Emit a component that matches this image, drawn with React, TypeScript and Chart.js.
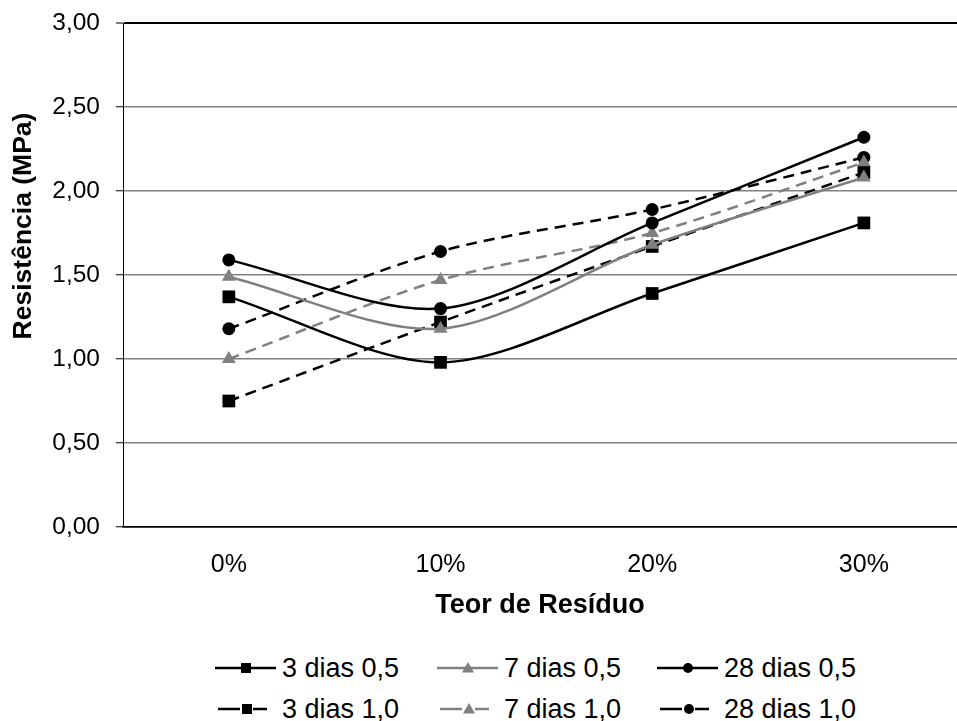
import React, { useEffect, useRef } from "react";
import { Chart, registerables } from "chart.js";

Chart.register(...registerables);

const categories = ["0%", "10%", "20%", "30%"];
const yTickValues = [0, 0.5, 1, 1.5, 2, 2.5, 3];

const seriesLabels = ["3 dias 0,5", "7 dias 0,5", "28 dias 0,5", "3 dias 1,0", "7 dias 1,0", "28 dias 1,0"];
const dias3_05 = [1.37, 0.98, 1.39, 1.81];
const dias7_05 = [1.49, 1.18, 1.68, 2.08];
const dias28_05 = [1.59, 1.3, 1.81, 2.32];
const dias3_10 = [0.75, 1.22, 1.67, 2.11];
const dias7_10 = [1.0, 1.47, 1.75, 2.17];
const dias28_10 = [1.18, 1.64, 1.89, 2.2];

const xTitle = "Teor de Resíduo";
const yTitle = "Resistência (MPa)";

const BLACK = "#000000";
const GRAY = "#808080";
const FONT = "'Liberation Sans', Arial, sans-serif";

type Style = { color: string; shape: "rect" | "triangle" | "circle"; dashed: boolean; radius: number };
const styles: Style[] = [
  { color: BLACK, shape: "rect", dashed: false, radius: 9 },
  { color: GRAY, shape: "triangle", dashed: false, radius: 8 },
  { color: BLACK, shape: "circle", dashed: false, radius: 6.5 },
  { color: BLACK, shape: "rect", dashed: true, radius: 9 },
  { color: GRAY, shape: "triangle", dashed: true, radius: 8 },
  { color: BLACK, shape: "circle", dashed: true, radius: 6.5 },
];
const seriesValues = [dias3_05, dias7_05, dias28_05, dias3_10, dias7_10, dias28_10];

const yTitlePlugin = {
  id: "yTitlePlugin",
  afterDraw(chart: any) {
    const ctx = chart.ctx;
    ctx.save();
    ctx.translate(24, 226);
    ctx.rotate(-Math.PI / 2);
    ctx.font = `bold 26.5px ${FONT}`;
    ctx.fillStyle = BLACK;
    ctx.textAlign = "center";
    ctx.textBaseline = "middle";
    ctx.fillText(yTitle, 0, 0);
    ctx.restore();
  },
};

function LegendIcon({ s }: { s: Style }) {
  const cx = s.dashed ? 32 : 31;
  const cy = 8;
  let marker: React.ReactNode;
  if (s.shape === "rect") marker = <rect x={cx - 5} y={cy - 5} width={10} height={10} fill={s.color} />;
  else if (s.shape === "triangle")
    marker = <polygon points={`${cx},${cy - 6} ${cx + 6},${cy + 4.5} ${cx - 6},${cy + 4.5}`} fill={s.color} />;
  else marker = <circle cx={cx} cy={cy} r={5} fill={s.color} />;
  return (
    <svg width={61} height={16} style={{ display: "block", marginRight: 6 }}>
      {s.dashed ? (
        <>
          <line x1={3} y1={cy} x2={25} y2={cy} stroke={s.color} strokeWidth={2.5} />
          <line x1={38} y1={cy} x2={52} y2={cy} stroke={s.color} strokeWidth={2.5} />
        </>
      ) : (
        <line x1={0} y1={cy} x2={61} y2={cy} stroke={s.color} strokeWidth={2.5} />
      )}
      {marker}
    </svg>
  );
}

export default function App() {
  const ref = useRef<HTMLCanvasElement | null>(null);

  useEffect(() => {
    if (!ref.current) return;
    const datasets = seriesValues.map((vals, k) => ({
      label: seriesLabels[k],
      data: vals.map((y, i) => ({ x: i, y })),
      borderColor: styles[k].color,
      backgroundColor: styles[k].color,
      borderWidth: 2.5,
      borderDash: styles[k].dashed ? [11, 7] : [],
      pointStyle: styles[k].shape,
      pointRadius: styles[k].radius,
      pointBorderWidth: 0,
      pointBackgroundColor: styles[k].color,
      tension: 0.3,
    }));
    const chart = new Chart(ref.current, {
      type: "line",
      data: { datasets },
      plugins: [yTitlePlugin],
      options: {
        animation: false,
        responsive: false,
        layout: { autoPadding: false, padding: { top: 23, left: 0, right: 0, bottom: 0 } },
        plugins: { legend: { display: false }, tooltip: { enabled: false } },
        scales: {
          x: {
            type: "linear",
            min: -0.5,
            max: 3.44,
            afterBuildTicks: (scale: any) => {
              scale.ticks = categories.map((_, i) => ({ value: i }));
            },
            afterFit: (scale: any) => {
              scale.height = 113;
            },
            grid: { display: false },
            border: { display: true, color: BLACK, width: 1.5 },
            ticks: {
              color: BLACK,
              font: { family: FONT, size: 25 },
              padding: 15,
              maxRotation: 0,
              callback: (v: any) => categories[v] ?? "",
            },
            title: {
              display: true,
              text: xTitle,
              color: BLACK,
              font: { family: FONT, size: 27, weight: "bold" },
              padding: { top: 0, bottom: 18.5 },
            },
          },
          y: {
            min: 0,
            max: 3,
            afterBuildTicks: (scale: any) => {
              scale.ticks = yTickValues.map((v) => ({ value: v }));
            },
            afterFit: (scale: any) => {
              scale.width = 123;
            },
            grid: {
              color: (c: any) => (c.tick && (c.tick.value === 3 || c.tick.value === 0) ? BLACK : GRAY),
              lineWidth: (c: any) => (c.tick && c.tick.value === 3 ? 2 : 1.5),
              tickColor: BLACK,
              tickLength: 7,
              tickWidth: 1,
              drawTicks: true,
            },
            border: { display: true, color: BLACK, width: 1 },
            ticks: {
              color: BLACK,
              font: { family: FONT, size: 24.5, lineHeight: 0.5 },
              padding: 16,
              callback: (v: any) => Number(v).toFixed(2).replace(".", ","),
            },
          },
        },
      },
    });
    return () => chart.destroy();
  }, []);

  const colLeft = [215, 437, 657];
  const rowCenter = [668, 709];

  return (
    <div style={{ position: "fixed", left: 0, top: 0, width: 957, height: 721, background: "#fff", overflow: "hidden" }}>
      <canvas ref={ref} width={957} height={640} style={{ display: "block" }} />
      {seriesLabels.map((lab, k) => (
        <div
          key={lab}
          style={{
            position: "absolute",
            left: colLeft[k % 3],
            top: rowCenter[Math.floor(k / 3)] - 16,
            height: 32,
            display: "flex",
            alignItems: "center",
            fontFamily: FONT,
            fontSize: 27,
            lineHeight: "32px",
            color: BLACK,
            whiteSpace: "nowrap",
          }}
        >
          <LegendIcon s={styles[k]} />
          <span>{lab}</span>
        </div>
      ))}
    </div>
  );
}
